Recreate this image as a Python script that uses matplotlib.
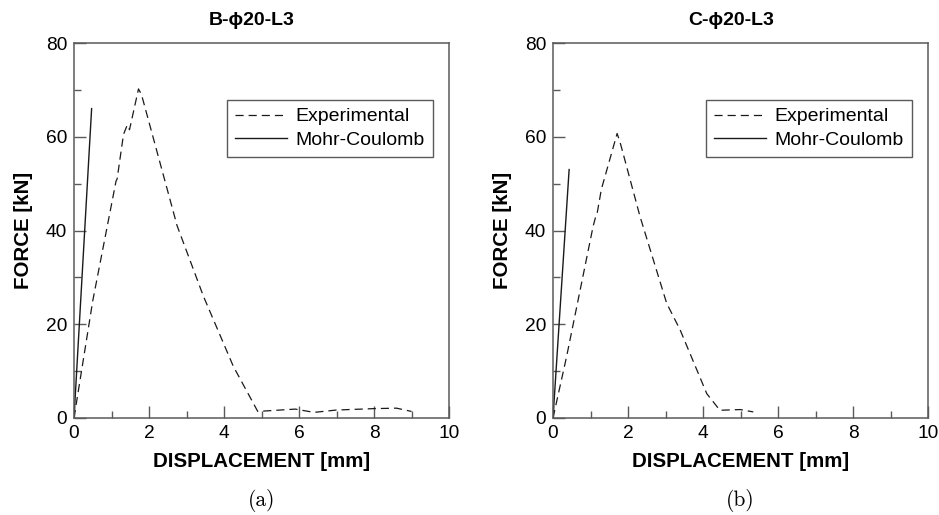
import matplotlib
matplotlib.use('Agg')
import matplotlib.pyplot as plt
from matplotlib.ticker import MultipleLocator

plt.rcParams['font.family'] = ['Liberation Sans', 'DejaVu Sans']

# Specimen B-phi20-L3: test curve and Mohr-Coulomb prediction
b_exp_disp = [0.0, 0.5, 1.12, 1.15, 1.32, 1.42, 1.48, 1.72, 1.80, 2.75, 3.45, 4.25, 4.90, 5.90, 6.40, 7.00, 8.00, 8.60, 9.00]
b_exp_force = [0.0, 25.0, 50.5, 51.0, 60.5, 62.5, 61.5, 70.2, 69.0, 41.0, 26.0, 11.0, 1.4, 1.9, 1.2, 1.7, 2.0, 2.1, 1.4]
b_mc_disp = [0.0, 0.47]
b_mc_force = [0.0, 66.0]

# Specimen C-phi20-L3
c_exp_disp = [0.0, 0.36, 1.07, 1.14, 1.18, 1.29, 1.71, 1.80, 2.32, 3.03, 3.39, 4.10, 4.45, 4.99, 5.34]
c_exp_force = [0.0, 13.0, 40.9, 43.0, 43.8, 48.8, 60.7, 58.5, 43.0, 24.5, 18.8, 5.2, 1.65, 1.8, 1.3]
c_mc_disp = [0.0, 0.43]
c_mc_force = [0.0, 53.0]

titles = ['B-\u03d520-L3', 'C-\u03d520-L3']
captions = ['(a)', '(b)']

fig = plt.figure(figsize=(9.39, 5.15), dpi=100)
ax_a = fig.add_axes([74 / 939, 97 / 515, 375 / 939, 375 / 515])
ax_b = fig.add_axes([553 / 939, 97 / 515, 375 / 939, 375 / 515])

spine_col = '#5a5a5a'
line_col = '#1a1a1a'

panels = [
    (ax_a, b_exp_disp, b_exp_force, b_mc_disp, b_mc_force),
    (ax_b, c_exp_disp, c_exp_force, c_mc_disp, c_mc_force),
]

for i, (ax, xd, yd, xm, ym) in enumerate(panels):
    ax.plot(xd, yd, color=line_col, lw=0.9, linestyle=(0, (6.5, 4)), label='Experimental')
    ax.plot(xm, ym, color=line_col, lw=1.0, label='Mohr-Coulomb')

    ax.set_xlim(0, 10)
    ax.set_ylim(0, 80)
    ax.xaxis.set_major_locator(MultipleLocator(2))
    ax.xaxis.set_minor_locator(MultipleLocator(1))
    ax.yaxis.set_major_locator(MultipleLocator(20))
    ax.yaxis.set_minor_locator(MultipleLocator(10))
    ax.tick_params(which='both', direction='in', top=False, right=False,
                   color=spine_col, width=1.0, labelsize=13.8)
    ax.tick_params(which='major', length=8.6)
    ax.tick_params(which='minor', length=5)
    ax.tick_params(axis='x', pad=5)
    ax.tick_params(axis='y', pad=5)
    for sp in ax.spines.values():
        sp.set_color(spine_col)
        sp.set_linewidth(1.1)

    ax.set_xlabel('DISPLACEMENT [mm]', fontsize=14.8, fontweight='bold', labelpad=7)
    ax.set_ylabel('FORCE [kN]', fontsize=14.8, fontweight='bold', labelpad=9)
    ax.set_title(titles[i], fontsize=14, fontweight='bold', x=0.474, pad=13)

    leg = ax.legend(loc='upper right', bbox_to_anchor=(0.957, 0.848), fontsize=14,
                    fancybox=False, framealpha=1, edgecolor=spine_col,
                    handlelength=2.7, handletextpad=0.45, borderpad=0.4,
                    labelspacing=0.3, borderaxespad=0)
    leg.get_frame().set_linewidth(1.0)

    cx = (ax.get_position().x0 + ax.get_position().x1) / 2
    fig.text(cx, 0.029, captions[i], fontsize=15.5, family='cmr10', ha='center', va='center')

fig.savefig('out.png', dpi=100)
